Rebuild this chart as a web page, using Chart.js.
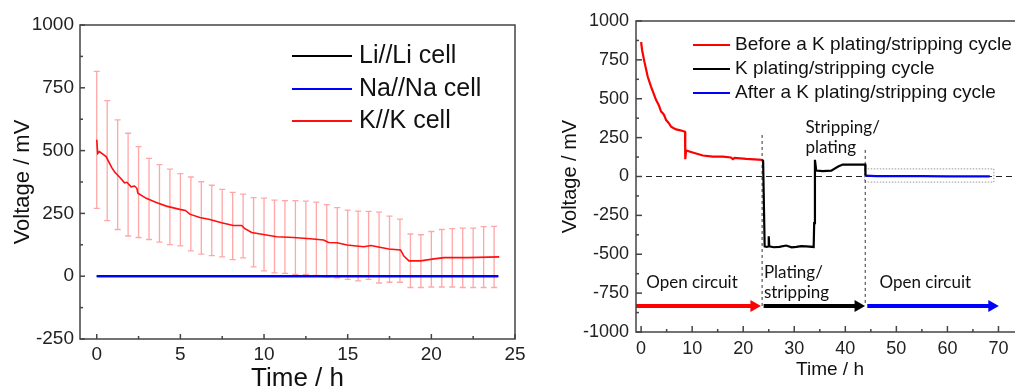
<!DOCTYPE html>
<html><head><meta charset="utf-8">
<script src="https://cdn.jsdelivr.net/npm/chart.js@4/dist/chart.umd.min.js"></script>
<style>
html,body{margin:0;padding:0;background:#fff;width:1015px;height:392px;overflow:hidden;position:relative}
#c1{position:absolute;left:0;top:0;width:540px;height:392px}
#c2{position:absolute;left:520px;top:0;width:520px;height:392px}
</style></head><body>
<canvas id="c1" width="540" height="392"></canvas>
<canvas id="c2" width="520" height="392"></canvas>
<script>
// ---------- Left panel data ----------
const liTime = [0, 24];
const liVolt = [0, 0];
const naTime = [0, 24];
const naVolt = [0, 0];
const kTime = [0, 0.06, 0.16, 0.56, 0.9, 1.06, 1.4, 1.66, 1.8, 2.06, 2.26, 2.4, 2.46, 2.96, 3.56, 4.16, 4.96, 5.3, 5.56, 6.16, 6.76, 7.46, 8.16, 8.66, 8.86, 9.26, 9.96, 10.76, 11.76, 12.76, 13.56, 13.86, 14.36, 14.96, 15.96, 16.4, 16.76, 17.46, 18.16, 18.36, 18.66, 19.36, 20.16, 20.76, 22.16, 24.06];
const kVolt = [543, 489, 496, 476, 432, 416, 392, 372, 374, 356, 359, 350, 330, 310, 293, 279, 266, 262, 247, 234, 226, 213, 202, 202, 189, 174, 166, 157, 154, 149, 144, 134, 133, 124, 117, 122, 117, 108, 104, 80, 61, 61, 69, 74, 74, 77];
const errTime = [0, 0.625, 1.25, 1.875, 2.5, 3.125, 3.75, 4.375, 5, 5.625, 6.25, 6.875, 7.5, 8.125, 8.75, 9.375, 10, 10.625, 11.25, 11.875, 12.5, 13.125, 13.75, 14.375, 15, 15.625, 16.25, 16.875, 17.5, 18.125, 18.75, 19.375, 20, 20.625, 21.25, 21.875, 22.5, 23.125, 23.75];
const errHigh = [815, 699, 622, 569, 516, 469, 444, 426, 408, 395, 376, 362, 346, 334, 327, 313, 311, 303, 301, 301, 299, 295, 285, 273, 263, 259, 258, 255, 239, 227, 168, 165, 178, 186, 189, 191, 191, 197, 198];
const errLow = [270, 221, 186, 160, 154, 146, 136, 126, 121, 101, 88, 82, 77, 66, 73, 37, 21, 13, 11, 7, 7, 3, -3, -7, -13, -19, -13, -27, -24, -24, -45, -45, -43, -43, -43, -45, -45, -45, -45];

// ---------- Right panel data ----------
const beforeTime = [0, 0.2, 0.65, 1.3, 1.96, 2.5, 2.94, 3.3, 3.5, 3.92, 4.3, 4.5, 4.9, 5.2, 5.5, 5.88, 6.4, 6.86, 7.5, 8.17, 8.6, 8.65, 8.8, 10.1, 12.1, 14.05, 16, 17.6, 18, 18.3, 20.6, 23.7];
const beforeVolt = [865, 812, 737, 641, 577, 530, 491, 470, 455, 417, 405, 395, 363, 352, 340, 320, 310, 303, 298, 293, 288, 111, 167, 154, 135, 128, 128, 122, 112, 120, 113, 107];
const cycleTime = [23.7, 23.9, 24.2, 24.6, 24.9, 25.0, 25.1, 26, 27.1, 28.4, 29.5, 30.4, 31.4, 32.35, 33.8, 33.9, 34.05, 34.3, 35.6, 37.25, 38.6, 39.5, 41.5, 43.9, 43.95];
const cycleVolt = [107, 100, -449, -453, -450, -385, -449, -455, -453, -444, -456, -453, -448, -449, -453, -300, 107, 38, 34, 38, 64, 77, 77, 77, 5];
const afterTime = [43.95, 46, 50, 55, 60, 65, 68.3];
const afterVolt = [5, 3, 2, 2, 1, 1, 1];
const zeroTime = [-1, 75];
const zeroVolt = [0, 0];
const phase1Time = [23.7, 23.7];
const phase1Volt = [267, -833];
const phase2Time = [43.9, 43.9];
const phase2Volt = [171, -833];
const boxTime = [43.8, 69.1, 69.1, 43.8, 43.8];
const boxVolt = [49, 49, -36, -36, 49];
const arrowRedTime = [-1, 22.1];
const arrowBlackTime = [24.0, 42.5];
const arrowBlueTime = [44.3, 68.7];
const arrowVolt = [-833, -833];
const noteText = ['Open circuit', 'Plating/', 'stripping', 'Stripping/', 'plating', 'Open circuit'];
const noteTime = [1, 24.05, 24.05, 32.2, 32.2, 46.7];
const noteVolt = [-680, -620, -748, 316, 188, -680];

const pts = (xs, ys) => xs.map((x, i) => ({x: x, y: ys[i]}));
const FONT = "'Liberation Sans', Arial, sans-serif";

// ---------- Plugins ----------
const frameTicks = {
  id: 'frameTicks',
  afterDatasetsDraw(chart, args, o) {
    const {ctx, chartArea: a, scales} = chart;
    ctx.save();
    ctx.strokeStyle = o.color; ctx.lineWidth = o.width;
    const doScale = (s, horiz) => {
      const vals = s.ticks.map(t => t.value);
      const step = vals[1] - vals[0];
      const minors = [];
      for (let v = vals[0] - step / 2; v <= s.max; v += step) if (v >= s.min) minors.push(v);
      const draw = (v, len) => {
        const p = s.getPixelForValue(v);
        ctx.beginPath();
        if (horiz) { ctx.moveTo(p, a.bottom); ctx.lineTo(p, a.bottom - len); }
        else { ctx.moveTo(a.left, p); ctx.lineTo(a.left + len, p); }
        ctx.stroke();
      };
      vals.forEach(v => draw(v, o.major));
      minors.forEach(v => draw(v, o.minor));
    };
    doScale(scales.x, true); doScale(scales.y, false);
    ctx.strokeRect(a.left, a.top, a.right - a.left, a.bottom - a.top);
    ctx.restore();
  }
};
const lineLegend = {
  id: 'lineLegend',
  afterDraw(chart, args, o) {
    const ctx = chart.ctx;
    ctx.save();
    ctx.font = o.size + 'px ' + FONT;
    ctx.textBaseline = 'middle';
    o.items.forEach((idx, k) => {
      const ds = chart.data.datasets[idx];
      const y = o.ys[k];
      ctx.strokeStyle = ds.borderColor; ctx.lineWidth = o.lw;
      ctx.beginPath(); ctx.moveTo(o.x0, y); ctx.lineTo(o.x1, y); ctx.stroke();
      ctx.fillStyle = '#111';
      ctx.fillText(ds.label, o.tx, y);
    });
    ctx.restore();
  }
};
const errorBars = {
  id: 'errorBars',
  beforeDatasetsDraw(chart, args, o) {
    if (!o.enabled) return;
    const {ctx, scales: {x, y}} = chart;
    ctx.save();
    ctx.strokeStyle = o.color; ctx.lineWidth = o.width;
    errTime.forEach((t, i) => {
      const px = x.getPixelForValue(t);
      const y1 = y.getPixelForValue(errHigh[i]);
      const y2 = y.getPixelForValue(errLow[i]);
      ctx.beginPath();
      ctx.moveTo(px, y1); ctx.lineTo(px, y2);
      ctx.moveTo(px - o.cap, y1); ctx.lineTo(px + o.cap, y1);
      ctx.moveTo(px - o.cap, y2); ctx.lineTo(px + o.cap, y2);
      ctx.stroke();
    });
    ctx.restore();
  }
};
const notes = {
  id: 'notes',
  afterDatasetsDraw(chart, args, o) {
    if (!o.enabled) return;
    const {ctx, scales: {x, y}} = chart;
    ctx.save();
    ctx.font = o.size + 'px ' + o.family;
    ctx.fillStyle = '#111';
    ctx.textBaseline = 'middle';
    noteText.forEach((t, i) => ctx.fillText(t, x.getPixelForValue(noteTime[i]), y.getPixelForValue(noteVolt[i])));
    ctx.restore();
  }
};

function axis(opts) {
  return {
    type: 'linear', min: opts.min, max: opts.max,
    grid: {display: false, drawTicks: false},
    border: {display: false},
    ticks: {stepSize: opts.step, includeBounds: false, autoSkip: false, maxRotation: 0,
            padding: opts.pad, color: '#222', font: {family: FONT, size: opts.fs},
            callback: v => String(v)},
    title: {display: true, text: opts.title, color: '#111',
            font: {family: FONT, size: opts.ts, lineHeight: 1}, padding: opts.tpad},
    afterFit: opts.fit
  };
}

// ---------- Left chart ----------
new Chart(document.getElementById('c1'), {
  type: 'line',
  data: {datasets: [
    {label: 'Li//Li cell', data: pts(liTime, liVolt), borderColor: '#000000', borderWidth: 2, order: 3},
    {label: 'Na//Na cell', data: pts(naTime, naVolt), borderColor: '#0000ff', borderWidth: 2.2, order: 1},
    {label: 'K//K cell', data: pts(kTime, kVolt), borderColor: '#ff1010', borderWidth: 1.6, order: 0}
  ]},
  options: {
    responsive: false, animation: false, devicePixelRatio: 1,
    layout: {padding: {top: 25, right: 25, left: 0, bottom: 0}},
    elements: {point: {radius: 0}, line: {tension: 0}},
    scales: {
      x: axis({min: -1, max: 25, step: 5, pad: 4, fs: 19, title: 'Time / h', ts: 26, tpad: {top: 0, bottom: 0}, fit: s => { s.height = 53; }}),
      y: axis({min: -250, max: 1000, step: 250, pad: 6, fs: 19, title: 'Voltage / mV', ts: 22, tpad: {top: 12, bottom: 0}, fit: s => { s.width = 80; }})
    },
    plugins: {
      legend: {display: false}, tooltip: {enabled: false},
      frameTicks: {color: '#444', width: 1.5, major: 5, minor: 3},
      lineLegend: {items: [0, 1, 2], x0: 292, x1: 352, tx: 359, ys: [56, 89, 121], size: 25, lw: 2.2},
      errorBars: {enabled: true, color: 'rgba(255,80,80,0.5)', width: 1.3, cap: 3},
      notes: {enabled: false}
    }
  },
  plugins: [frameTicks, lineLegend, errorBars, notes]
});

// ---------- Right chart ----------
const thin = {borderWidth: 1, pointRadius: 0};
new Chart(document.getElementById('c2'), {
  type: 'line',
  data: {datasets: [
    {label: 'Before a K plating/stripping cycle', data: pts(beforeTime, beforeVolt), borderColor: '#ff0000', borderWidth: 2.2, order: 1},
    {label: 'K plating/stripping cycle', data: pts(cycleTime, cycleVolt), borderColor: '#000000', borderWidth: 2.2, order: 1},
    {label: 'After a K plating/stripping cycle', data: pts(afterTime, afterVolt), borderColor: '#0000ff', borderWidth: 2.2, order: 1},
    {label: 'zero', data: pts(zeroTime, zeroVolt), borderColor: '#222', borderWidth: 1.2, borderDash: [6, 4], order: 5},
    {label: 'p1', data: pts(phase1Time, phase1Volt), borderColor: '#333', borderDash: [3, 3], order: 5, ...thin},
    {label: 'p2', data: pts(phase2Time, phase2Volt), borderColor: '#333', borderDash: [3, 3], order: 5, ...thin},
    {label: 'box', data: pts(boxTime, boxVolt), borderColor: '#999', borderDash: [1.5, 1.5], order: 5, ...thin},
    {label: 'a1', data: pts(arrowRedTime, arrowVolt), borderColor: '#ff0000', backgroundColor: '#ff0000', borderWidth: 4, order: 2,
     pointRadius: [0, 7], pointStyle: 'triangle', pointRotation: 90, pointBorderWidth: 0, pointBackgroundColor: '#ff0000'},
    {label: 'a2', data: pts(arrowBlackTime, arrowVolt), borderColor: '#000000', backgroundColor: '#000000', borderWidth: 4, order: 2,
     pointRadius: [0, 7], pointStyle: 'triangle', pointRotation: 90, pointBorderWidth: 0, pointBackgroundColor: '#000000'},
    {label: 'a3', data: pts(arrowBlueTime, arrowVolt), borderColor: '#0000ff', backgroundColor: '#0000ff', borderWidth: 4, order: 2,
     pointRadius: [0, 7], pointStyle: 'triangle', pointRotation: 90, pointBorderWidth: 0, pointBackgroundColor: '#0000ff'}
  ]},
  options: {
    responsive: false, animation: false, devicePixelRatio: 1,
    layout: {padding: {top: 21, right: 16, left: 0, bottom: 0}},
    elements: {point: {radius: 0}, line: {tension: 0}},
    scales: {
      x: axis({min: -1, max: 75, step: 10, pad: 6, fs: 18, title: 'Time / h', ts: 19, tpad: {top: 0, bottom: 12.5}, fit: s => { s.height = 60; }}),
      y: axis({min: -1000, max: 1000, step: 250, pad: 7, fs: 18, title: 'Voltage / mV', ts: 20, tpad: {top: 40, bottom: 0}, fit: s => { s.width = 116; }})
    },
    plugins: {
      legend: {display: false}, tooltip: {enabled: false},
      frameTicks: {color: '#444', width: 1.5, major: 6, minor: 3},
      lineLegend: {items: [0, 1, 2], x0: 173, x1: 210, tx: 215, ys: [45, 69, 93], size: 19, lw: 2.2},
      errorBars: {enabled: false},
      notes: {enabled: true, size: 17, family: "Lato, 'Open Sans', sans-serif"}
    }
  },
  plugins: [frameTicks, lineLegend, errorBars, notes]
});
</script>
</body></html>
